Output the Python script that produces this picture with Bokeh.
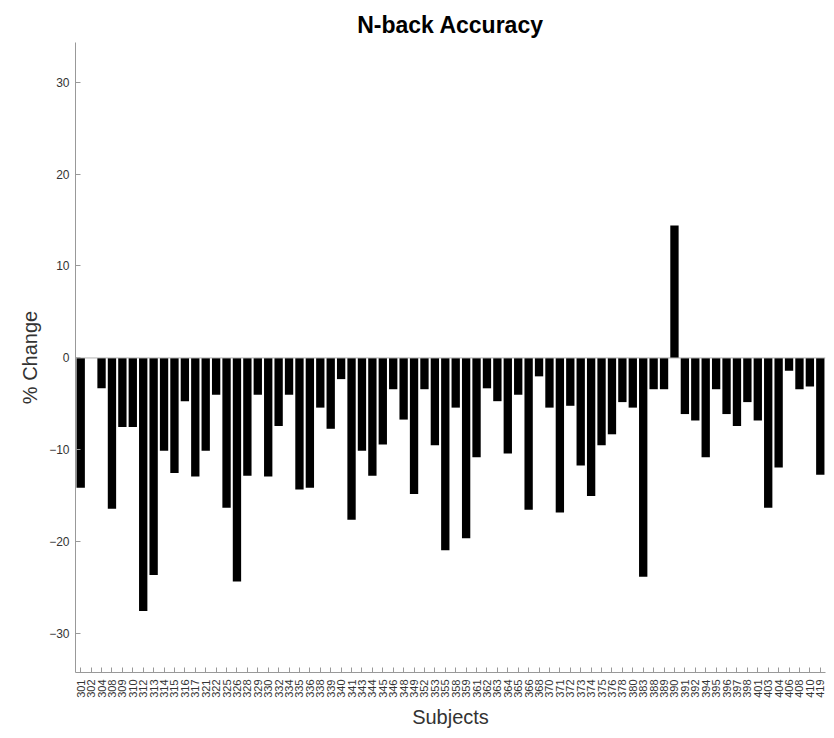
import math
from bokeh.plotting import figure
from bokeh.models import FactorRange, Range1d, FixedTicker, Span
from bokeh.embed import file_html
from bokeh.resources import INLINE

subjects = ["301", "302", "304", "308", "309", "310", "312", "313", "314", "315",
            "316", "317", "321", "322", "325", "326", "328", "329", "330", "332",
            "334", "335", "336", "338", "339", "340", "341", "343", "344", "345",
            "346", "348", "349", "352", "353", "355", "358", "359", "361", "362",
            "363", "364", "365", "366", "368", "370", "371", "372", "373", "374",
            "375", "376", "378", "380", "383", "388", "389", "390", "391", "392",
            "394", "395", "396", "397", "398", "401", "403", "404", "406", "408",
            "410", "419"]

pct_change = [-14.1, 0.0, -3.3, -16.4, -7.5, -7.5, -27.5, -23.6, -10.1, -12.5,
              -4.7, -12.9, -10.1, -4.0, -16.3, -24.3, -12.8, -4.0, -12.9, -7.4,
              -4.0, -14.3, -14.1, -5.4, -7.7, -2.3, -17.6, -10.1, -12.8, -9.4,
              -3.4, -6.7, -14.8, -3.4, -9.5, -20.9, -5.4, -19.6, -10.8, -3.3,
              -4.7, -10.4, -4.0, -16.5, -2.0, -5.4, -16.8, -5.2, -11.7, -15.0,
              -9.5, -8.3, -4.8, -5.4, -23.8, -3.4, -3.4, 14.4, -6.1, -6.8,
              -10.8, -3.4, -6.1, -7.4, -4.8, -6.8, -16.3, -11.9, -1.4, -3.4,
              -3.1, -12.7]

y_ticks = [-30, -20, -10, 0, 10, 20, 30]

p = figure(width=834, height=738, output_backend="svg", toolbar_location=None,
           x_range=FactorRange(factors=subjects, range_padding=0),
           y_range=Range1d(-34.2, 34.3),
           min_border_left=75, min_border_right=9, min_border_top=42, min_border_bottom=66,
           title="N-back Accuracy")

p.vbar(x=subjects, top=pct_change, bottom=0, width=0.8, fill_color="black", line_color=None)
p.add_layout(Span(location=0, dimension="width", line_color="#b0b0b0", line_width=1))

p.outline_line_color = None
p.xgrid.grid_line_color = None
p.ygrid.grid_line_color = None
p.background_fill_color = "white"
p.border_fill_color = "white"

p.title.align = "center"
p.title.text_font = "Liberation Sans"
p.title.text_font_size = "23px"
p.title.text_font_style = "bold"
p.title.text_color = "black"

ya = p.yaxis[0]
ya.ticker = FixedTicker(ticks=y_ticks)
ya.minor_tick_line_color = None
ya.major_tick_in = 5
ya.major_tick_out = 0
ya.major_tick_line_color = "#999999"
ya.axis_line_color = "#999999"
ya.major_label_text_font = "Liberation Sans"
ya.major_label_text_font_size = "12px"
ya.major_label_text_color = "#333333"
ya.major_label_standoff = 6
ya.axis_label = "% Change"
ya.axis_label_text_font = "Liberation Sans"
ya.axis_label_text_font_size = "20px"
ya.axis_label_text_font_style = "normal"
ya.axis_label_text_color = "#333333"
ya.axis_label_standoff = 5

xa = p.xaxis[0]
xa.major_tick_in = 5
xa.major_tick_out = 0
xa.major_tick_line_color = "#999999"
xa.axis_line_color = "#999999"
xa.major_label_orientation = math.pi / 2
xa.major_label_text_font = "Liberation Sans"
xa.major_label_text_font_size = "11px"
xa.major_label_text_color = "#333333"
xa.major_label_standoff = 7
xa.axis_label = "Subjects"
xa.axis_label_text_font = "Liberation Sans"
xa.axis_label_text_font_size = "20px"
xa.axis_label_text_font_style = "normal"
xa.axis_label_text_color = "#333333"
xa.axis_label_standoff = 5

open("out.html", "w").write(file_html(p, INLINE))
